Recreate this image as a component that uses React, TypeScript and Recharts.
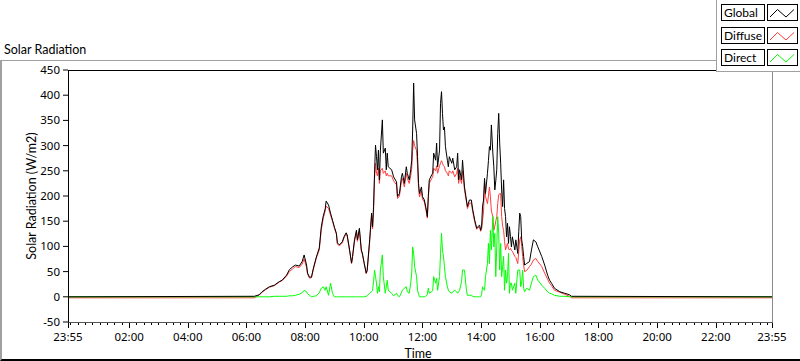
import React from 'react';
import { LineChart, Line, XAxis, YAxis } from 'recharts';

// minutes elapsed since 23:55 (start of the axis)
const times = [
  0, 381, 391, 397, 404, 412, 422, 432, 438, 447, 453, 459, 465, 473, 479, 483, 488, 490, 494, 498,
  502, 508, 514, 518, 522, 526, 528, 533, 537, 541, 545, 549, 551, 555, 561, 565, 569, 571, 576, 580,
  582, 586, 590, 592, 596, 600, 602, 606, 610, 612, 617, 621, 623, 625, 627, 629, 631, 633, 635, 637,
  639, 643, 645, 649, 651, 653, 655, 662, 666, 672, 674, 678, 682, 684, 688, 692, 694, 698, 701, 703,
  705, 707, 709, 713, 715, 717, 719, 723, 725, 729, 733, 735, 737, 739, 744, 746, 748, 752, 754, 756,
  760, 762, 764, 766, 768, 770, 772, 776, 778, 780, 785, 787, 791, 795, 797, 799, 801, 805, 807, 811,
  815, 817, 821, 825, 828, 832, 836, 838, 842, 844, 846, 848, 850, 852, 854, 858, 860, 862, 864, 866,
  869, 871, 873, 875, 877, 879, 881, 883, 885, 887, 889, 891, 893, 895, 897, 899, 901, 903, 905, 907,
  909, 914, 916, 920, 922, 924, 926, 928, 930, 932, 934, 938, 944, 948, 952, 957, 961, 969, 975, 981,
  985, 989, 995, 1006, 1016, 1026, 1030, 1440,
];

const globalVals = [
  0, 1, 4, 10, 15, 20, 23, 30, 33, 43, 54, 59, 63, 61, 70, 83, 63, 47, 39, 39,
  57, 79, 97, 138, 160, 174, 190, 182, 166, 152, 138, 126, 107, 103, 109, 120, 127, 123, 93, 67,
  80, 113, 132, 113, 136, 93, 87, 66, 47, 53, 113, 166, 139, 179, 245, 301, 278, 252, 291, 232,
  291, 351, 285, 295, 252, 285, 258, 252, 238, 228, 199, 205, 238, 245, 225, 258, 245, 232, 252, 271,
  331, 424, 351, 324, 278, 225, 205, 218, 199, 192, 172, 159, 199, 232, 242, 245, 285, 271, 305, 258,
  291, 384, 407, 364, 331, 337, 298, 271, 258, 278, 265, 275, 252, 258, 285, 232, 252, 232, 271, 218,
  192, 179, 192, 192, 172, 152, 136, 139, 142, 132, 139, 180, 192, 235, 205, 245, 270, 298, 291, 341,
  285, 258, 212, 230, 252, 324, 364, 305, 265, 212, 179, 232, 175, 159, 119, 146, 106, 139, 120, 99,
  119, 93, 113, 86, 130, 166, 159, 113, 100, 80, 63, 66, 70, 93, 113, 109, 99, 80, 63, 43,
  33, 27, 17, 10, 7, 4, 1, 0,
];

const diffuseVals = [
  -2, -2, 3, 9, 14, 19, 22, 29, 32, 41, 50, 55, 60, 58, 65, 75, 58, 45, 37, 38,
  55, 77, 93, 132, 155, 170, 180, 175, 162, 150, 136, 124, 105, 101, 107, 118, 125, 120, 91, 66,
  78, 110, 128, 110, 132, 90, 85, 65, 46, 52, 108, 160, 135, 170, 235, 265, 245, 240, 255, 225,
  250, 255, 245, 250, 240, 245, 240, 240, 230, 222, 195, 200, 230, 235, 218, 245, 235, 225, 240, 255,
  290, 310, 300, 290, 260, 215, 198, 210, 194, 188, 168, 156, 195, 225, 235, 238, 255, 250, 260, 245,
  260, 265, 270, 265, 260, 258, 250, 245, 240, 250, 245, 250, 238, 245, 255, 225, 240, 225, 250, 212,
  188, 175, 186, 186, 168, 148, 134, 137, 138, 130, 135, 152, 170, 228, 199, 185, 200, 218, 199, 170,
  159, 132, 140, 150, 159, 185, 202, 205, 205, 159, 140, 132, 110, 93, 100, 106, 95, 93, 96, 92,
  90, 80, 78, 66, 90, 113, 119, 100, 80, 62, 50, 52, 60, 65, 73, 76, 70, 60, 47, 35,
  27, 22, 13, 9, 5, 1, -2, -2,
];

const directVals = [
  0, 0, 0, 0, 0, 0, 1, 1, 1, 1, 2, 2, 3, 5, 8, 13, 10, 6, 3, 0,
  1, 2, 8, 17, 20, 13, 20, 3, 27, 7, 0, 0, 0, 0, 0, 0, 0, 0, 0, 0,
  0, 0, 0, 0, 0, 0, 0, 0, 1, 2, 7, 10, 13, 30, 53, 40, 27, 7, 20, 10,
  53, 83, 40, 7, 20, 33, 13, 7, 2, 7, 3, 0, 8, 13, 17, 20, 10, 7, 27, 47,
  99, 86, 60, 40, 13, 5, 0, 0, 0, 0, 2, 5, 17, 7, 10, 13, 40, 27, 37, 13,
  40, 86, 126, 93, 80, 60, 40, 20, 13, 10, 7, 10, 13, 10, 7, 10, 13, 30, 53, 53,
  13, 3, 3, 3, 1, 0, 0, 0, 0, 0, 5, 20, 15, 13, 40, 66, 106, 66, 132, 93,
  159, 99, 126, 40, 99, 159, 126, 53, 106, 40, 60, 80, 13, 53, 27, 40, 86, 7, 27, 27,
  13, 27, 7, 53, 53, 53, 20, 30, 53, 17, 10, 17, 13, 27, 40, 43, 33, 23, 17, 10,
  7, 6, 3, 1, 1, 0, 0, 0,
];

const yTicks = [-50, 0, 50, 100, 150, 200, 250, 300, 350, 400, 450];
const xMajorTicks = [0, 125, 245, 365, 485, 605, 725, 845, 965, 1085, 1205, 1325, 1440];
const xMajorLabels = ['23:55', '02:00', '04:00', '06:00', '08:00', '10:00', '12:00', '14:00', '16:00', '18:00', '20:00', '22:00', '23:55'];
const xMinorTicks: number[] = [];
for (let m = 5; m < 1440; m += 15) xMinorTicks.push(m);

const seriesNames = ['Global', 'Diffuse', 'Direct'];
const seriesColors = ['#000000', '#ff3c3c', '#00ff00'];

const data = times.map((t, i) => ({
  t,
  global: globalVals[i],
  diffuse: diffuseVals[i],
  direct: directVals[i],
}));

const allTicks = Array.from(new Set([...xMajorTicks, ...xMinorTicks])).sort((a, b) => a - b);

const FONT = '"Noto Sans", "Open Sans", sans-serif';
const LFONT = 'Lato, "Noto Sans", sans-serif';

const XTick = (props: any) => {
  const { x, y, payload } = props;
  const idx = xMajorTicks.indexOf(payload.value);
  const major = idx >= 0;
  const xx = Math.round(x) + 0.5;
  return (
    <g>
      <line x1={xx} x2={xx} y1={y} y2={y + (major ? 6 : 3)} stroke="#000" strokeWidth={1} />
      {major && (
        <text x={x} y={y + 19} textAnchor="middle" fontSize={11.5} fontFamily={FONT} fill="#000">
          {xMajorLabels[idx]}
        </text>
      )}
    </g>
  );
};

const Zig = ({ color }: { color: string }) => (
  <svg width={28} height={15} style={{ display: 'block' }}>
    <polyline points="2,12 9.5,4.5 18,12 26,4.5" fill="none" stroke={color} strokeWidth={1} />
  </svg>
);

export default function App() {
  return (
    <div style={{ position: 'absolute', left: 0, top: 0, width: 800, height: 361, background: '#fff', overflow: 'hidden', fontFamily: LFONT }}>
      <LineChart width={800} height={361} data={data} margin={{ top: 70, right: 28, bottom: 9, left: 8 }}>
        <XAxis
          dataKey="t"
          type="number"
          domain={[0, 1440]}
          ticks={allTicks}
          interval={0}
          tick={<XTick />}
          tickLine={false}
          axisLine={false}
          tickSize={0}
          tickMargin={0}
          height={30}
          allowDataOverflow
        />
        <YAxis
          type="number"
          domain={[-50, 450]}
          ticks={yTicks}
          interval={0}
          width={60}
          tickSize={5}
          tickMargin={3}
          axisLine={false}
          stroke="#000"
          tickLine={{ stroke: '#000' }}
          tick={{ fill: '#000', fontSize: 11.5, fontFamily: FONT }}
          allowDataOverflow
        />
        <Line type="linear" dataKey="diffuse" stroke={seriesColors[1]} strokeWidth={1} dot={false} activeDot={false} isAnimationActive={false} />
        <Line type="linear" dataKey="direct" stroke={seriesColors[2]} strokeWidth={1} dot={false} activeDot={false} isAnimationActive={false} />
        <Line type="linear" dataKey="global" stroke={seriesColors[0]} strokeWidth={1} dot={false} activeDot={false} isAnimationActive={false} />
      </LineChart>

      {/* plot area border */}
      <div style={{ position: 'absolute', left: 68, top: 70, width: 705, height: 253, boxSizing: 'border-box', borderTop: '1px solid #000', borderLeft: '1px solid #000', borderRight: '1px solid #8a8a8a', borderBottom: '1px solid #555', pointerEvents: 'none' }} />

      {/* outer frame */}
      <div style={{ position: 'absolute', left: 0, top: 60, width: 800, height: 301, boxSizing: 'border-box', borderTop: '1px solid #a0a0a0', borderLeft: '2px solid #a0a0a0', borderBottom: '2px solid #000', pointerEvents: 'none' }} />

      {/* title */}
      <div style={{ position: 'absolute', left: 4, top: 42, fontSize: 12.5, lineHeight: '16px', color: '#000', whiteSpace: 'nowrap' }}>Solar Radiation</div>

      {/* y label */}
      <div style={{ position: 'absolute', left: 32 - 100, top: 196 - 8, width: 200, height: 16, lineHeight: '16px', textAlign: 'center', fontSize: 12.5, transform: 'rotate(-90deg)', transformOrigin: '50% 50%', whiteSpace: 'nowrap', color: '#000' }}>
        Solar Radiation (W/m2)
      </div>

      {/* x label */}
      <div style={{ position: 'absolute', left: 418 - 50, top: 346, width: 100, textAlign: 'center', fontSize: 12.5, lineHeight: '16px', color: '#000' }}>Time</div>

      {/* legend */}
      <div style={{ position: 'absolute', left: 716, top: 0, width: 84, height: 72, background: '#fff', boxSizing: 'border-box', borderLeft: '1px solid #a0a0a0', borderBottom: '1px solid #a0a0a0' }}>
        {seriesNames.map((name, i) => (
          <React.Fragment key={name}>
            <div style={{ position: 'absolute', left: 4, top: 4 + i * 22.5, width: 44, height: 17, boxSizing: 'border-box', border: '1px solid #000', fontSize: 12, lineHeight: '15px', paddingLeft: 2, whiteSpace: 'nowrap', color: '#000', overflow: 'hidden' }}>{name}</div>
            <div style={{ position: 'absolute', left: 50, top: 4 + i * 22.5, width: 31, height: 17, boxSizing: 'border-box', border: '1px solid #000' }}>
              <Zig color={seriesColors[i]} />
            </div>
          </React.Fragment>
        ))}
      </div>
    </div>
  );
}
